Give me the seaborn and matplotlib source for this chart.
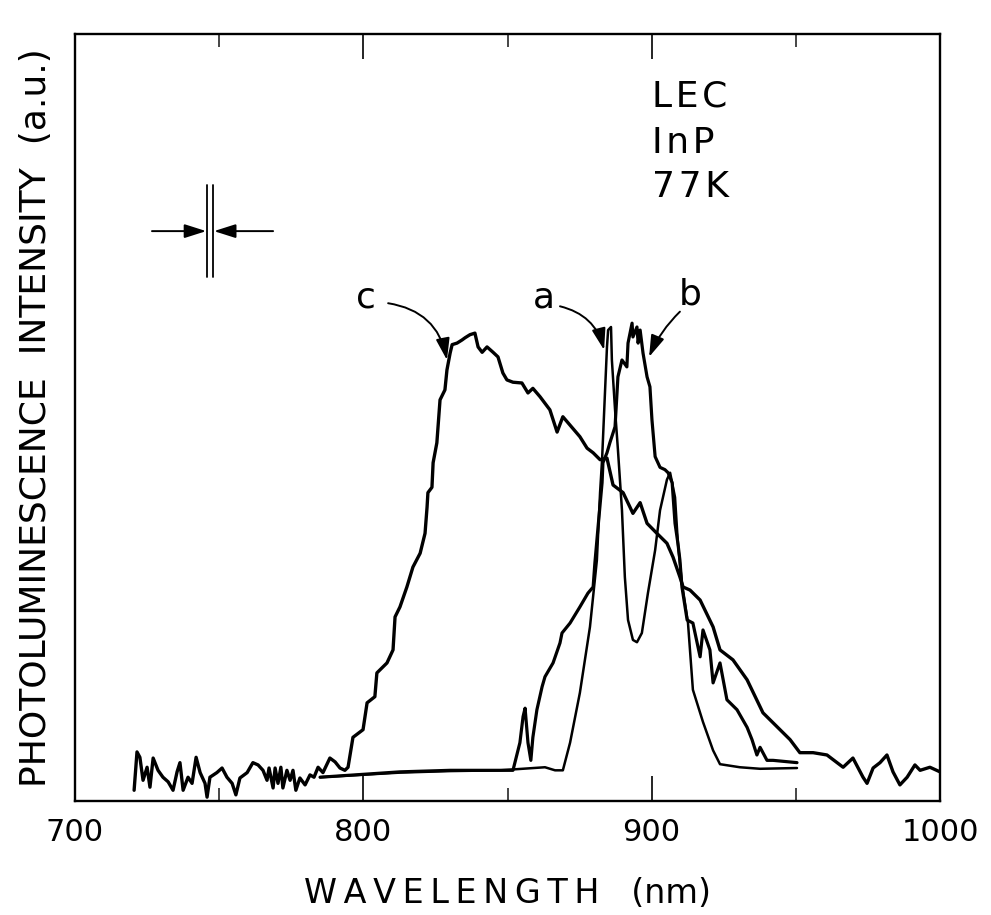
import matplotlib
matplotlib.use("Agg")
import matplotlib.pyplot as plt
import numpy as np
import pandas as pd
import seaborn as sns

# ---------------- data (wavelength nm, PL intensity a.u.) ----------------
c_nm = [720.5, 721.5, 722.5, 723.6, 725.0, 726.0, 727.1, 728.8, 730.5, 732.3, 734.0, 735.4,
        736.4, 737.5, 739.2, 740.6, 742.0, 743.4, 745.1, 745.8, 746.8, 749.2, 751.0, 752.7,
        754.5, 755.8, 757.2, 759.7, 761.7, 763.5, 765.2, 766.6, 767.3, 768.7, 769.4, 770.4,
        771.4, 772.1, 773.5, 774.6, 775.6, 776.6, 778.0, 779.8, 781.5, 782.9, 784.3, 786.0,
        788.4, 790.2, 791.9, 793.6, 794.7, 796.4, 799.9, 801.3, 804.0, 804.7, 808.2, 810.3,
        811.0, 812.7, 815.1, 817.2, 819.7, 821.4, 822.1, 822.4, 823.8, 824.2, 825.5, 826.6,
        828.3, 829.0, 830.1, 830.8, 832.5, 834.2, 835.3, 837.0, 838.7, 839.8, 841.2, 842.9,
        845.0, 846.7, 848.4, 849.8, 851.9, 855.0, 857.1, 858.8, 861.3, 864.7, 867.2, 869.2,
        871.7, 875.1, 877.6, 879.7, 882.1, 884.5, 886.6, 890.1, 893.5, 896.0, 898.4, 901.8,
        905.3, 907.4, 909.8, 910.9, 913.3, 916.8, 921.3, 923.7, 928.2, 933.1, 938.6, 944.5,
        948.0, 951.4, 956.0, 960.8, 964.3, 966.4, 969.8, 973.3, 974.7, 976.8, 979.2, 981.6,
        983.7, 986.1, 988.6, 991.3, 993.1, 996.5, 1000.0]
c_int = [1.4, 6.4, 5.7, 2.7, 4.4, 1.8, 5.6, 4.0, 3.1, 2.5, 1.4, 3.8,
         5.0, 1.4, 3.1, 2.3, 5.7, 3.7, 2.3, 0.5, 3.1, 3.7, 4.3, 3.1,
         2.3, 0.8, 3.0, 3.7, 5.0, 4.7, 4.0, 2.7, 4.3, 1.7, 4.3, 2.3,
         4.4, 1.7, 4.0, 2.7, 4.0, 1.4, 3.0, 2.1, 3.4, 3.1, 4.4, 3.7,
         5.6, 5.1, 4.3, 4.0, 4.4, 8.3, 9.3, 12.8, 13.6, 16.7, 18.0, 19.7,
         24.0, 25.3, 27.9, 30.5, 32.3, 34.9, 38.3, 40.2, 40.9, 44.1, 46.7, 52.3,
         53.6, 56.2, 58.4, 59.5, 59.7, 60.1, 60.4, 60.8, 61.0, 59.2, 58.5, 59.2,
         58.5, 57.9, 55.8, 54.9, 54.6, 54.5, 53.2, 53.8, 52.7, 51.0, 48.1, 50.1,
         49.0, 47.5, 46.0, 45.4, 44.5, 44.7, 41.2, 40.2, 37.5, 38.9, 36.2, 34.9,
         33.6, 31.8, 29.2, 27.9, 27.5, 26.2, 22.7, 19.7, 18.4, 15.8, 11.5, 9.3,
         8.0, 6.3, 6.3, 6.0, 5.0, 4.4, 5.6, 3.1, 2.3, 4.3, 5.0, 6.0,
         3.8, 2.1, 3.1, 4.7, 4.0, 4.4, 3.8]

a_nm = [785.0, 812.7, 830.1, 847.4, 863.0, 866.5, 869.2, 871.7, 875.1, 878.6, 881.0, 882.1,
        882.8, 883.8, 884.5, 884.9, 885.9, 886.2, 887.3, 888.3, 889.7, 890.7, 891.8, 893.5,
        894.9, 896.6, 898.7, 901.2, 902.9, 905.3, 906.4, 908.1, 909.1, 910.5, 912.6, 914.3,
        917.8, 921.3, 923.7, 930.6, 937.6, 950.4]
a_int = [3.1, 3.7, 3.9, 4.0, 4.4, 4.0, 4.0, 7.6, 14.1, 22.7, 31.4, 40.2,
         44.5, 53.2, 59.2, 61.4, 61.8, 57.5, 51.0, 45.8, 37.9, 29.2, 23.6, 21.0,
         20.7, 21.9, 27.1, 32.7, 37.9, 41.9, 42.8, 39.6, 33.6, 28.4, 23.2, 14.5,
         10.3, 6.6, 4.8, 4.4, 4.2, 4.3]

b_nm = [785.0, 812.7, 830.1, 847.4, 851.9, 854.3, 855.4, 856.1, 857.1, 858.1, 858.8, 860.2,
        862.0, 863.0, 865.8, 868.2, 868.9, 871.7, 875.1, 877.9, 879.7, 880.3, 881.4, 882.8,
        883.1, 884.5, 885.5, 887.3, 888.3, 889.7, 891.4, 891.8, 893.2, 893.5, 894.9, 895.3,
        896.0, 897.0, 898.4, 899.4, 900.1, 901.2, 902.9, 904.6, 905.7, 907.1, 908.1, 909.1,
        909.8, 910.5, 912.3, 914.3, 916.8, 917.8, 920.2, 921.3, 923.7, 926.1, 929.6, 933.1,
        934.8, 936.5, 937.6, 940.0, 942.1, 950.4]
b_int = [3.1, 3.8, 4.0, 4.0, 4.0, 7.6, 11.0, 12.1, 7.6, 5.3, 8.3, 11.9,
         14.9, 16.2, 18.0, 20.6, 21.9, 23.2, 25.3, 27.1, 27.9, 31.0, 35.7, 41.5,
         44.1, 45.4, 46.7, 48.8, 55.3, 57.5, 56.6, 59.7, 62.3, 60.5, 61.8, 59.7,
         61.4, 58.4, 55.3, 54.0, 49.7, 44.9, 43.5, 43.2, 42.8, 41.5, 36.2, 33.6,
         31.4, 27.9, 23.6, 23.2, 18.8, 22.3, 19.7, 15.4, 18.0, 13.2, 11.9, 9.6,
         8.0, 6.0, 7.0, 5.3, 5.3, 5.0]

x_major = [700, 800, 900, 1000]
x_minor = [750, 850, 950]
sample_lines = ["LEC", "InP", "77K"]
curve_labels = ["a", "b", "c"]

# ---------------- figure ----------------
sns.set_theme(style="white")
plt.rcParams["font.family"] = ["DejaVu Sans"]
plt.rcParams["text.color"] = "black"

fig = plt.figure(figsize=(9.91, 9.15), dpi=100)
ax = fig.add_axes([75 / 991, 114 / 915, 865 / 991, 767 / 915])

for xs, ys, lw in [(c_nm, c_int, 2.4), (b_nm, b_int, 2.3), (a_nm, a_int, 1.8)]:
    sns.lineplot(x=xs, y=ys, sort=False, estimator=None, color="black", lw=lw, ax=ax)

ax.set_xlim(700, 1000)
ax.set_ylim(0, 100)
ax.set_xticks(x_major)
ax.set_xticks(x_minor, minor=True)
ax.set_xticklabels([str(v) for v in x_major])
ax.set_yticks([])
ax.tick_params(axis="x", which="major", direction="in", length=18, width=1.2,
               top=True, bottom=True, labelsize=22, pad=12, colors="black")
ax.tick_params(axis="x", which="minor", direction="in", length=9.5, width=1.2,
               top=True, bottom=True)
for s in ax.spines.values():
    s.set_linewidth(1.7)
    s.set_color("black")

sp = "\u2009"
ax.set_xlabel(sp.join("WAVELENGTH") + "   (nm)", fontsize=24, labelpad=22, color="black")
ax.set_ylabel("PHOTOLUMINESCENCE  INTENSITY  (a.u.)", fontsize=26, labelpad=16, color="black")

# sample text
hs = "\u200a"
for txt, yv in zip(sample_lines, [90.5, 84.5, 78.7]):
    ax.text(900.1, yv, hs.join(txt), fontsize=26, ha="left", va="baseline")

# curve labels with arrows
arrow_kw = dict(arrowstyle="-|>,head_length=1.1,head_width=0.35", color="black", lw=1.4,
                shrinkA=0, shrinkB=0)
ax.text(800.9, 65.6, curve_labels[2], fontsize=26, ha="center", va="center")
ax.annotate("", xy=(829.0, 57.5), xytext=(808.6, 64.9),
            arrowprops=dict(connectionstyle="arc3,rad=-0.35", **arrow_kw))
ax.text(862.7, 65.6, curve_labels[0], fontsize=26, ha="center", va="center")
ax.annotate("", xy=(883.5, 58.8), xytext=(868.2, 64.5),
            arrowprops=dict(connectionstyle="arc3,rad=-0.3", **arrow_kw))
ax.text(913.3, 66.0, curve_labels[1], fontsize=26, ha="center", va="center")
ax.annotate("", xy=(899.1, 57.9), xytext=(909.8, 63.8),
            arrowprops=dict(connectionstyle="arc3,rad=0.1", **arrow_kw))

# resolution marker
ax.plot([745.8, 745.8], [68.3, 80.3], color="black", lw=1.3)
ax.plot([747.9, 747.9], [68.3, 80.3], color="black", lw=1.3)
ax.annotate("", xy=(745.5, 74.3), xytext=(726.7, 74.3), arrowprops=arrow_kw)
ax.annotate("", xy=(748.2, 74.3), xytext=(768.7, 74.3), arrowprops=arrow_kw)

fig.savefig("out.png", dpi=100, facecolor="white")
